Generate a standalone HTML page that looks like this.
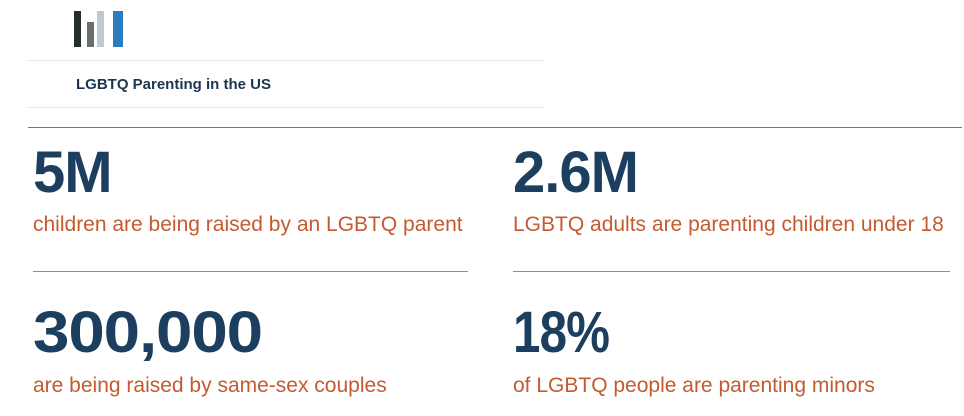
<!DOCTYPE html>
<html><head><style>
body{margin:0;width:964px;height:416px;background:#fff;position:relative;overflow:hidden;font-family:"Liberation Sans",sans-serif}
.a{position:absolute}
.big{position:absolute;font-weight:bold;color:#1c3f60;font-size:58px;line-height:1;letter-spacing:-1px;transform-origin:0 0}
.sub{position:absolute;color:#c55a30;font-size:21px;line-height:1;white-space:nowrap}
.hr{position:absolute;height:1px;background:#8a9096}
</style></head><body>
<div class="a" style="left:74px;top:11px;width:7px;height:36px;background:#262b2e"></div>
<div class="a" style="left:87px;top:22px;width:7px;height:25px;background:#6a6e71"></div>
<div class="a" style="left:97px;top:11px;width:7px;height:36px;background:#bfc9d1"></div>
<div class="a" style="left:113px;top:11px;width:10px;height:36px;background:#2a7bc0"></div>
<div class="a" style="left:28px;top:60px;width:517px;height:1px;background:#e6e8ea"></div>
<div class="a" style="left:76px;top:76px;font-size:15px;font-weight:bold;color:#1e3550">LGBTQ Parenting in the US</div>
<div class="a" style="left:28px;top:107px;width:517px;height:1px;background:#e6e8ea"></div>
<div class="a" style="left:28px;top:127px;width:934px;height:1px;background:#6f7880"></div>

<div class="big" style="left:33px;top:144px">5M</div>
<div class="sub" style="left:33px;top:214px">children are being raised by an LGBTQ parent</div>
<div class="hr" style="left:33px;top:271px;width:435px"></div>

<div class="big" style="left:513px;top:144px">2.6M</div>
<div class="sub" style="left:513px;top:214px">LGBTQ adults are parenting children under 18</div>
<div class="hr" style="left:513px;top:271px;width:437px"></div>

<div class="big" style="left:33px;top:304px;transform:scaleX(1.13)">300,000</div>
<div class="sub" style="left:33px;top:375px">are being raised by same-sex couples</div>

<div class="big" style="left:513px;top:304px;transform:scaleX(0.85)">18%</div>
<div class="sub" style="left:513px;top:375px">of LGBTQ people are parenting minors</div>
</body></html>
